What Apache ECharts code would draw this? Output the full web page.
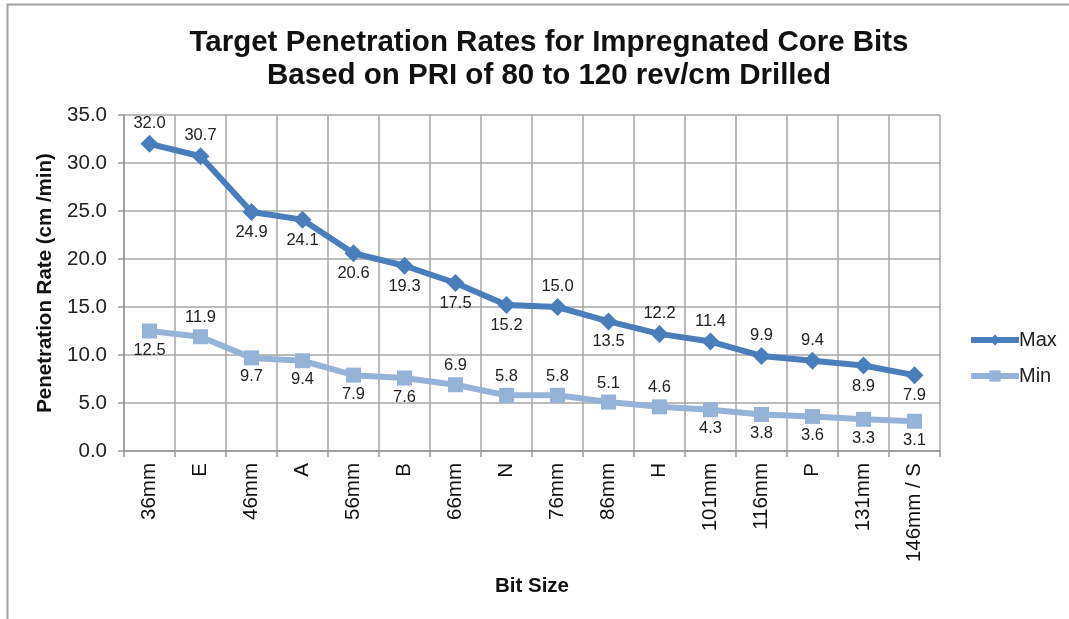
<!DOCTYPE html>
<html>
<head>
<meta charset="utf-8">
<script src="https://cdn.jsdelivr.net/npm/echarts@6/dist/echarts.min.js"></script>
<style>
  html, body { margin: 0; padding: 0; background: #fff; }
  #chart { width: 1069px; height: 619px; }
</style>
</head>
<body>
<div id="chart"></div>
<script>
const categories = ['36mm', 'E', '46mm', 'A', '56mm', 'B', '66mm', 'N', '76mm', '86mm', 'H', '101mm', '116mm', 'P', '131mm', '146mm / S']
const maxValues = [32.0, 30.7, 24.9, 24.1, 20.6, 19.3, 17.5, 15.2, 15.0, 13.5, 12.2, 11.4, 9.9, 9.4, 8.9, 7.9]
const minValues = [12.5, 11.9, 9.7, 9.4, 7.9, 7.6, 6.9, 5.8, 5.8, 5.1, 4.6, 4.3, 3.8, 3.6, 3.3, 3.1]
// where each data label sits (t = above, b = below)
const maxLabelSide = ['t', 't', 'b', 'b', 'b', 'b', 'b', 'b', 't', 'b', 't', 't', 't', 't', 'b', 'b']
const minLabelSide = ['b', 't', 'b', 'b', 'b', 'b', 't', 't', 't', 't', 't', 'b', 'b', 'b', 'b', 'b']

const chart = echarts.init(document.getElementById('chart'))

function withLabels(values, sides) {
  return values.map((v, i) => ({
    value: v,
    label: { position: sides[i] === 't' ? 'top' : 'bottom' }
  }))
}

const labelStyle = {
  show: true,
  distance: 3,
  color: '#222',
  fontSize: 16.5,
  formatter: p => p.value.toFixed(1)
}

chart.setOption({
  animation: false,
  textStyle: { fontFamily: 'Liberation Sans, Arial, sans-serif' },
  graphic: [{
    type: 'rect',
    shape: { x: 7.5, y: 4.5, width: 1200, height: 800 },
    style: { fill: 'none', stroke: '#a0a0a0', lineWidth: 2 },
    silent: true
  }],
  title: {
    text: 'Target Penetration Rates for Impregnated Core Bits\nBased on PRI of 80 to 120 rev/cm Drilled',
    left: 544,
    textAlign: 'center',
    top: 21,
    textStyle: {
      fontSize: 29.5,
      fontWeight: 'bold',
      color: '#111',
      lineHeight: 33
    }
  },
  legend: {
    orient: 'vertical',
    left: 963,
    top: 325,
    itemWidth: 48,
    itemHeight: 14,
    itemGap: 16,
    lineStyle: { width: 6 },
    textStyle: { fontSize: 20, color: '#222', padding: [0, 0, 0, -5] },
    data: ['Max', 'Min']
  },
  grid: {
    left: 124,
    right: 129,
    top: 115,
    bottom: 168
  },
  xAxis: {
    type: 'category',
    data: categories,
    name: 'Bit Size',
    nameLocation: 'middle',
    nameGap: 125,
    nameTextStyle: { fontSize: 20.5, fontWeight: 'bold', color: '#111' },
    axisLine: { lineStyle: { color: '#999', width: 1.5 } },
    axisTick: { show: true, length: 6, lineStyle: { color: '#999', width: 1.5 } },
    axisLabel: { rotate: 90, fontSize: 20.5, color: '#111', margin: 12, interval: 0 },
    splitLine: { show: true, lineStyle: { color: '#a6a6a6', width: 1.5 } }
  },
  yAxis: {
    type: 'value',
    min: 0,
    max: 35,
    interval: 5,
    name: 'Penetration Rate (cm /min)',
    nameLocation: 'middle',
    nameGap: 67,
    nameTextStyle: { fontSize: 20.5, fontWeight: 'bold', color: '#111' },
    axisLine: { show: true, lineStyle: { color: '#999', width: 1.5 } },
    axisTick: { show: true, length: 6, lineStyle: { color: '#999', width: 1.5 } },
    axisLabel: { fontSize: 20.5, color: '#222', margin: 17, formatter: v => v.toFixed(1) },
    splitLine: { lineStyle: { color: '#a6a6a6', width: 1.5 } }
  },
  series: [
    {
      name: 'Max',
      type: 'line',
      data: withLabels(maxValues, maxLabelSide),
      symbol: 'diamond',
      symbolSize: 18,
      lineStyle: { width: 6, color: '#4a7ebb' },
      itemStyle: { color: '#4a7ebb' },
      label: labelStyle
    },
    {
      name: 'Min',
      type: 'line',
      data: withLabels(minValues, minLabelSide),
      symbol: 'rect',
      symbolSize: 15,
      lineStyle: { width: 6, color: '#95b3d7' },
      itemStyle: { color: '#95b3d7' },
      label: labelStyle
    }
  ]
})
</script>
</body>
</html>
